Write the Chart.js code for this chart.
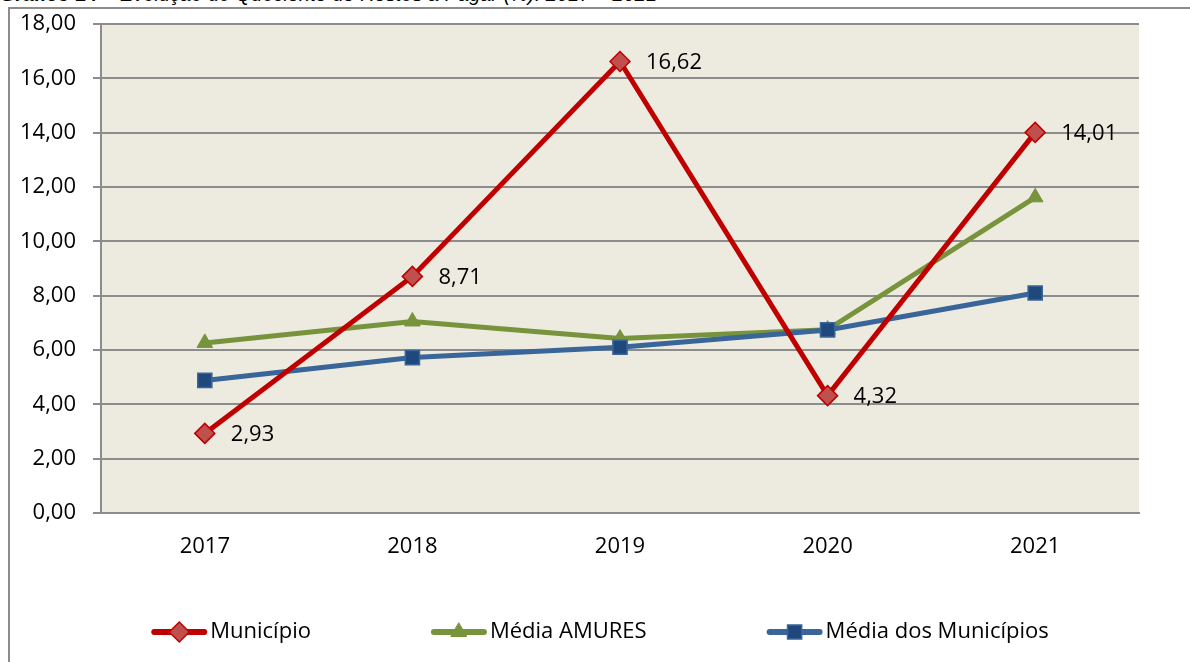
<!DOCTYPE html>
<html>
<head>
<meta charset="utf-8">
<script src="https://cdn.jsdelivr.net/npm/chart.js@4.4.1/dist/chart.umd.min.js"></script>
<style>
  html, body { margin: 0; padding: 0; background: #fff; overflow: hidden; }
  #wrap { position: relative; width: 1190px; height: 662px; overflow: hidden; }
  #frame { position: absolute; left: 8px; top: 7px; width: 1300px; height: 800px;
           border-left: 2px solid #8c8c8c; border-top: 2px solid #8c8c8c; }
  #title { position: absolute; left: 0; top: -16px; font: italic 20px "Liberation Sans", Arial, sans-serif;
           line-height: 20px; white-space: nowrap; color: #000; }
  #chart { position: absolute; left: 0; top: 0; }
</style>
</head>
<body>
<div id="wrap">
  <div id="title"><b>Gráfico 14</b> – Evolução do Quociente de Restos a Pagar (%): 2017 – 2021</div>
  <div id="frame"></div>
  <canvas id="chart" width="1190" height="662"></canvas>
</div>
<script>
const years = ['2017', '2018', '2019', '2020', '2021'];
const municipio = [2.93, 8.71, 16.62, 4.32, 14.01];
const mediaAmures = [6.26, 7.05, 6.42, 6.75, 11.62];
const mediaMunicipios = [4.88, 5.72, 6.10, 6.74, 8.10];
const seriesNames = ['Município', 'Média AMURES', 'Média dos Municípios'];
const yMin = 0, yMax = 18, yStep = 2;

const FONT = '"Open Sans", sans-serif';
const FSIZE = 22;
const fmt = v => v.toFixed(2).replace('.', ',');

// plot area background
const plotBg = {
  id: 'plotBg',
  beforeDraw(chart) {
    const {ctx, chartArea: a} = chart;
    ctx.save();
    ctx.fillStyle = '#edeae0';
    ctx.fillRect(a.left, a.top, a.right - a.left, a.bottom - a.top);
    ctx.restore();
  }
};

// value labels on the first series
const valueLabels = {
  id: 'valueLabels',
  afterDatasetsDraw(chart) {
    const ctx = chart.ctx;
    const meta = chart.getDatasetMeta(0);
    ctx.save();
    ctx.font = FSIZE + 'px ' + FONT;
    ctx.fillStyle = '#000';
    ctx.textAlign = 'left';
    ctx.textBaseline = 'middle';
    meta.data.forEach((pt, i) => {
      ctx.fillText(fmt(municipio[i]), pt.x + 26, pt.y + 1);
    });
    ctx.restore();
  }
};

// Excel-style legend: line with marker, then label
const bottomLegend = {
  id: 'bottomLegend',
  afterDraw(chart) {
    const ctx = chart.ctx;
    const ds = chart.data.datasets;
    const lineW = 56, gapText = 3, gapItem = 120, y = 632;
    ctx.save();
    ctx.font = FSIZE + 'px ' + FONT;
    const widths = ds.map(d => lineW + gapText + ctx.measureText(d.label).width);
    const total = widths.reduce((s, w) => s + w, 0) + gapItem * (ds.length - 1);
    let x = 600 - total / 2;
    ds.forEach((d, i) => {
      ctx.strokeStyle = d.borderColor;
      ctx.lineWidth = 6;
      ctx.lineCap = 'round';
      ctx.beginPath();
      ctx.moveTo(x + 3, y);
      ctx.lineTo(x + lineW - 3, y);
      ctx.stroke();
      ctx.fillStyle = d.pointBackgroundColor;
      ctx.strokeStyle = d.pointBorderColor;
      ctx.lineWidth = d.pointBorderWidth;
      Chart.helpers.drawPoint(ctx, {pointStyle: d.pointStyle, radius: d.pointRadius, rotation: 0, borderWidth: d.pointBorderWidth}, x + lineW / 2, y);
      ctx.fillStyle = '#000';
      ctx.textAlign = 'left';
      ctx.textBaseline = 'middle';
      ctx.fillText(d.label, x + lineW + gapText, y);
      x += widths[i] + gapItem;
    });
    ctx.restore();
  }
};

new Chart(document.getElementById('chart'), {
  type: 'line',
  data: {
    labels: years,
    datasets: [
      {
        label: seriesNames[0], data: municipio, order: 0,
        borderColor: '#c00000', borderWidth: 5,
        pointStyle: 'rectRot', pointRadius: 10, pointBorderWidth: 1.5,
        pointBackgroundColor: '#c0504d', pointBorderColor: '#c00000'
      },
      {
        label: seriesNames[1], data: mediaAmures, order: 2,
        borderColor: '#77933c', borderWidth: 5,
        pointStyle: 'triangle', pointRadius: 9, pointBorderWidth: 1,
        pointBackgroundColor: '#77933c', pointBorderColor: '#77933c'
      },
      {
        label: seriesNames[2], data: mediaMunicipios, order: 1,
        borderColor: '#3a6599', borderWidth: 5,
        pointStyle: 'rect', pointRadius: 10, pointBorderWidth: 1.5,
        pointBackgroundColor: '#1f497d', pointBorderColor: '#3a6599'
      }
    ]
  },
  options: {
    responsive: false,
    animation: false,
    layout: { padding: { left: 0, right: 51, top: 24, bottom: 0 } },
    plugins: {
      legend: { display: false },
      tooltip: { enabled: false }
    },
    elements: { line: { tension: 0 } },
    scales: {
      x: {
        offset: true,
        afterFit: s => { s.height = 149; s.paddingLeft = 0; s.paddingRight = 0; },
        grid: { display: false, drawTicks: false },
        border: { display: true, color: '#8c8c8c', width: 2 },
        ticks: { padding: 21, color: '#000', font: { family: FONT, size: FSIZE } }
      },
      y: {
        min: yMin, max: yMax,
        afterFit: s => { s.width = 101; s.paddingTop = 0; s.paddingBottom = 0; },
        grid: { color: '#8c8c8c', lineWidth: 2, tickLength: 8, tickColor: '#8c8c8c' },
        border: { display: true, color: '#8c8c8c', width: 2 },
        ticks: {
          stepSize: yStep, padding: 17, color: '#000',
          font: { family: FONT, size: FSIZE },
          callback: v => fmt(v)
        }
      }
    }
  },
  plugins: [plotBg, valueLabels, bottomLegend]
});
</script>
</body>
</html>
